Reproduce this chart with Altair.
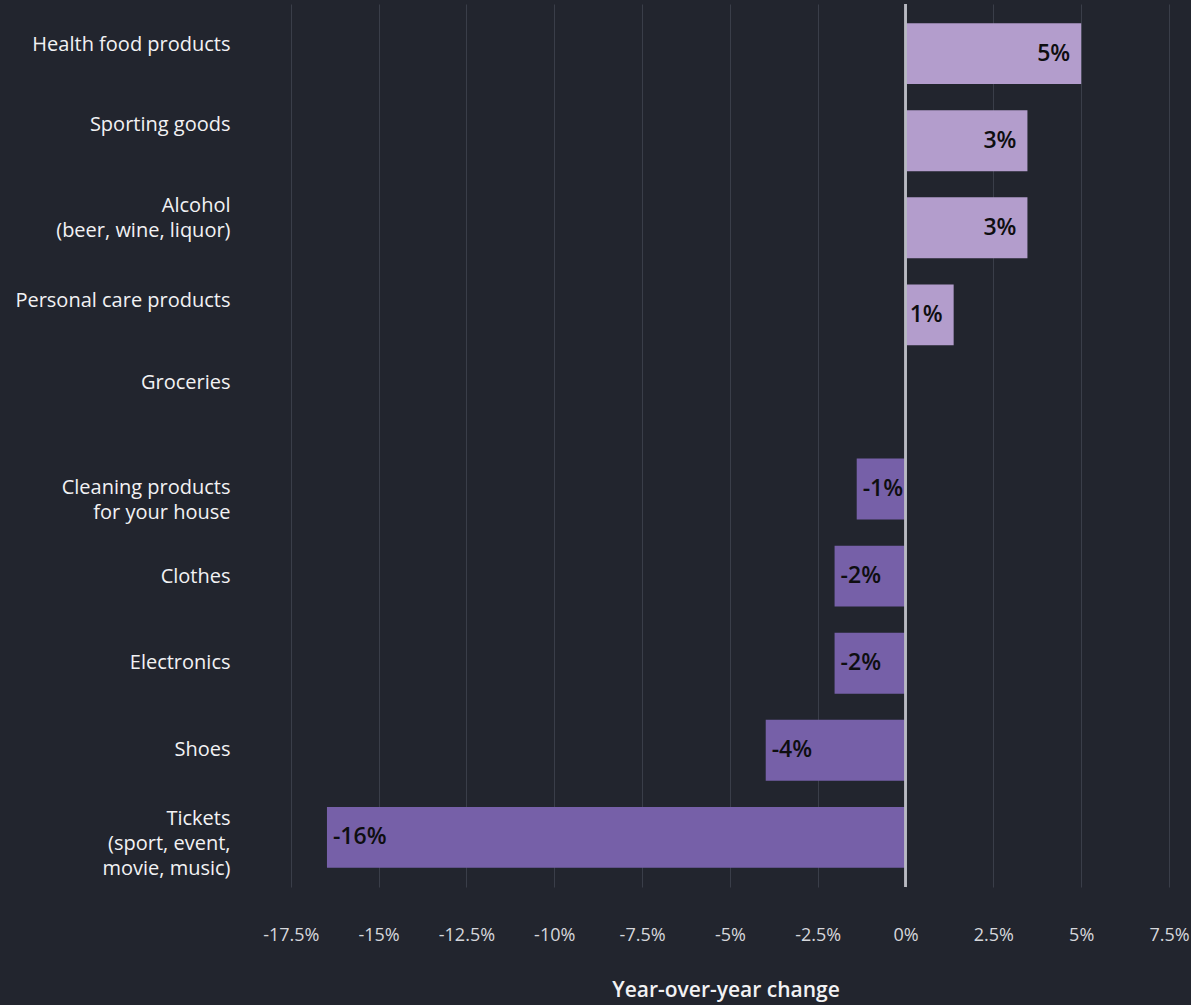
import altair as alt
import pandas as pd

categories = [
    "Health food products",
    "Sporting goods",
    "Alcohol\n(beer, wine, liquor)",
    "Personal care products",
    "Groceries",
    "Cleaning products\nfor your house",
    "Clothes",
    "Electronics",
    "Shoes",
    "Tickets\n(sport, event,\nmovie, music)",
]
values = [5.0, 3.47, 3.47, 1.37, 0.0, -1.39, -2.02, -2.02, -3.98, -16.47]
value_labels = ["5%", "3%", "3%", "1%", "", "-1%", "-2%", "-2%", "-4%", "-16%"]
x_ticks = [-17.5, -15, -12.5, -10, -7.5, -5, -2.5, 0, 2.5, 5, 7.5]

df = pd.DataFrame({"category": categories, "value": values, "label": value_labels})

# per-label vertical nudges of the category labels (style only)
label_nudge = [-9, -16, -22, -14, -19, -1, 1, 0, 0, -18]
offset_conditions = [
    {"test": "indexof(datum.value, '%s') === 0" % c.split("\n")[0], "value": n}
    for c, n in zip(categories, label_nudge)
    if n != 0
]

FONT = "Open Sans"
POS_COLOR = "#b39dcc"
NEG_COLOR = "#7660a8"

y_enc = alt.Y(
    "category:N",
    sort=categories,
    scale=alt.Scale(paddingInner=0.3, paddingOuter=0.22),
    axis=alt.Axis(
        title=None,
        labelExpr="split(datum.label, '\\n')",
        labelFont=FONT,
        labelFontSize=20,
        labelFontWeight=400,
        labelColor="#f2f2f4",
        labelLineHeight=25,
        labelPadding=52,
        labelOffset={"condition": offset_conditions, "value": 0},
        ticks=False,
        domain=False,
        grid=False,
        labelLimit=400,
    ),
)

x_scale = alt.Scale(domain=[-17.75, 7.5], nice=False, zero=False)

bars = alt.Chart(df).mark_bar().encode(
    x=alt.X(
        "value:Q",
        scale=x_scale,
        axis=alt.Axis(
            values=x_ticks,
            labelExpr="datum.value + '%'",
            title="Year-over-year change",
            titleFont=FONT,
            titleFontSize=21,
            titleFontWeight=600,
            titleColor="#f2f2f4",
            titlePadding=35,
            labelFont=FONT,
            labelFontSize=18,
            labelFontWeight=400,
            labelColor="#d6d7dc",
            labelPadding=39,
            ticks=False,
            domain=False,
            grid=True,
            gridColor="#3a3e49",
            gridWidth=1,
            labelFlush=False,
            labelOverlap=False,
        ),
    ),
    x2=alt.datum(0),
    y=y_enc,
    color=alt.condition(alt.datum.value >= 0, alt.value(POS_COLOR), alt.value(NEG_COLOR)),
)

zero_rule = alt.Chart(df).mark_rule(color="#b9bac2", strokeWidth=1.5).encode(
    x=alt.datum(0)
)

pos_text = alt.Chart(df).transform_filter(alt.datum.value > 0).mark_text(
    align="right", baseline="middle", dx=-11, font=FONT, fontSize=23,
    fontWeight=600, color="#0e0e10"
).encode(x=alt.X("value:Q", scale=x_scale), y=alt.Y("category:N", sort=categories), text="label:N")

neg_text = alt.Chart(df).transform_filter(alt.datum.value < 0).mark_text(
    align="left", baseline="middle", dx=6, font=FONT, fontSize=23,
    fontWeight=600, color="#0e0e10"
).encode(x=alt.X("value:Q", scale=x_scale), y=alt.Y("category:N", sort=categories), text="label:N")

chart = alt.layer(bars, zero_rule, pos_text, neg_text).properties(
    width=887,
    height=883,
    background="#22252e",
    autosize=alt.AutoSizeParams(type="none"),
    padding={"left": 282, "top": 4, "right": 22, "bottom": 118},
).configure_view(stroke=None)

chart.save("out.html", embed_options={"renderer": "svg", "actions": False})
